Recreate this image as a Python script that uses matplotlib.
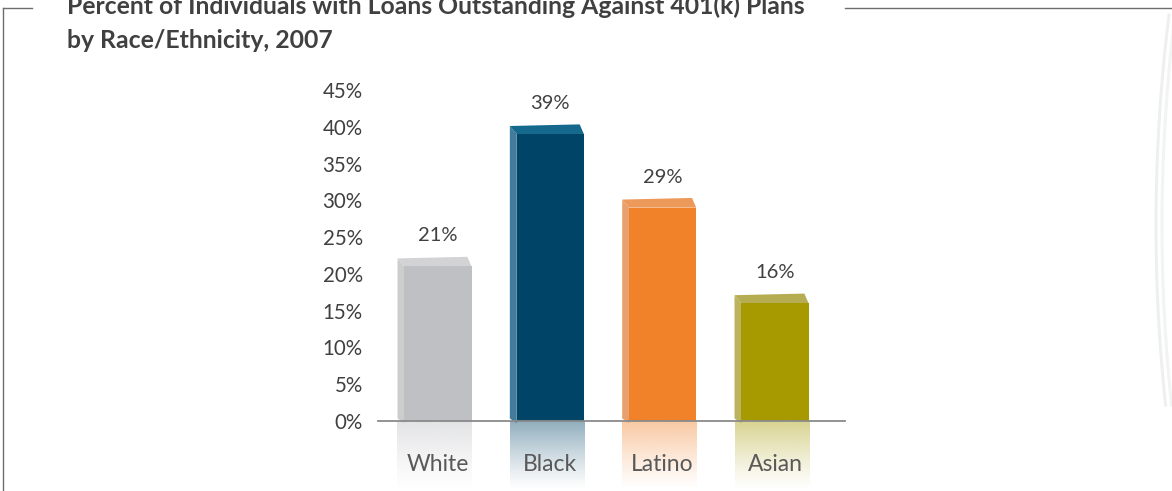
import numpy as np
import matplotlib
matplotlib.use("Agg")
import matplotlib.pyplot as plt
from matplotlib.patches import Polygon
from matplotlib.colors import to_rgb

categories = ["White", "Black", "Latino", "Asian"]
values = [21, 39, 29, 16]
value_labels = ["21%", "39%", "29%", "16%"]
yticks = [0, 5, 10, 15, 20, 25, 30, 35, 40, 45]
ytick_labels = ["0%", "5%", "10%", "15%", "20%", "25%", "30%", "35%", "40%", "45%"]
title_line1 = "Percent of Individuals with Loans Outstanding Against 401(k) Plans"
title_line2 = "by Race/Ethnicity, 2007"

front_colors = ["#bfc0c4", "#004468", "#f28229", "#a69a00"]
side_colors = ["#cdcdcd", "#427b9b", "#e6a16e", "#bcb35f"]
top_colors = ["#d3d3d5", "#14698c", "#ec995a", "#b6ac52"]

plt.rcParams['font.family'] = ['Lato', 'DejaVu Sans']

W, H = 1172, 491
fig = plt.figure(figsize=(W / 100, H / 100), dpi=100)
fig.patch.set_facecolor("white")

# faint decorative arcs at the right edge (pixel-space curves)
yy = np.linspace(15, 405, 200)
for dx, c in [(0, "#eef0f0"), (6, "#f2f3f3")]:
    xx = 1156 + dx + (yy - 225) ** 2 / (2 * 1700)
    fig.add_artist(plt.Line2D(xx / W, 1 - yy / H, color=c, lw=2.2))

ax = fig.add_axes([378 / W, 0, 467 / W, 1 - 82.6 / H])
ax.set_facecolor("none")

fw = 0.597   # front face width
sw = 0.062   # side face width
dz = 1.1     # top depth rise

for i, (v, fc, sc, tc) in enumerate(zip(values, front_colors, side_colors, top_colors)):
    x0 = i - fw / 2
    x1 = i + fw / 2
    ax.bar(i, v, width=fw, color=fc, zorder=3, linewidth=0)
    ax.add_patch(Polygon([(x0 - sw, dz * 0.3), (x0, -0.3), (x0, v), (x0 - sw, v + dz)],
                         closed=True, facecolor=sc, edgecolor="none", zorder=2))
    ax.add_patch(Polygon([(x0 - sw, v + dz), (x1 - sw * 0.6, v + dz * 1.2), (x1, v), (x0, v)],
                         closed=True, facecolor=tc, edgecolor="none", zorder=2))
    rgb = np.array(to_rgb(fc))
    n = 100
    alpha = np.linspace(0.5, 0.0, n) ** 1.2
    img = np.zeros((n, 2, 4))
    img[..., :3] = rgb
    img[..., 3] = alpha[:, None]
    ax.imshow(img, extent=(x0 - sw, x1, -9.5, 0), origin="upper", aspect="auto",
              zorder=1, interpolation="bilinear")
    ax.text(i, v + 3.0, value_labels[i], ha="center", va="bottom",
            fontsize=14.5, color="#404040", zorder=4)

ax.set_xlim(-0.534, 3.623)
ax.set_ylim(-9.52, 46)

for s in ["top", "right", "left"]:
    ax.spines[s].set_visible(False)
ax.spines["bottom"].set_position(("data", 0))
ax.spines["bottom"].set_color("#8a8a8a")
ax.spines["bottom"].set_linewidth(1.3)
ax.spines["bottom"].set_zorder(5)

ax.set_yticks(yticks)
ax.set_yticklabels(ytick_labels)
ax.set_xticks(range(len(categories)))
ax.set_xticklabels(categories)
ax.tick_params(axis="y", length=0, pad=11, labelsize=14.8, labelcolor="#404040")
ax.tick_params(axis="x", length=0, pad=24, labelsize=16.5, labelcolor="#595959")

# frame lines
fig.add_artist(plt.Line2D([3 / W, 3 / W], [0, 1 - 8 / H], color="#6e6e6e", lw=1.0))
fig.add_artist(plt.Line2D([3 / W, 32 / W], [1 - 8 / H, 1 - 8 / H], color="#6e6e6e", lw=1.0))
fig.add_artist(plt.Line2D([845 / W, 1.0], [1 - 8 / H, 1 - 8 / H], color="#6e6e6e", lw=1.0))

# title
fig.text(67 / W, 1 - 6 / H, title_line1, ha="left", va="center", fontsize=17.8,
         fontweight="bold", color="#404040")
fig.text(67 / W, 1 - 40 / H, title_line2, ha="left", va="center", fontsize=17.8,
         fontweight="bold", color="#404040")

fig.savefig("out.png", dpi=100)
